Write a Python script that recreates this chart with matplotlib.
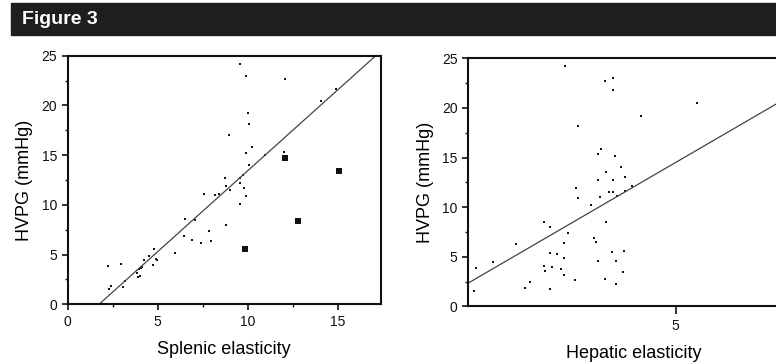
import matplotlib
matplotlib.use("Agg")
from matplotlib import pyplot as plt
from matplotlib.patches import Rectangle
import numpy as np

plt.rcParams['font.family'] = ['Liberation Sans', 'DejaVu Sans']

# Splenic elasticity vs HVPG (small dots)
spleen_x = [9.57, 9.93, 12.10, 14.9, 14.1, 10.0, 10.1, 8.98, 10.26, 9.9, 12.0, 10.97,
            10.1, 8.73, 9.6, 9.75, 8.8, 9.0, 9.6, 9.8, 9.9, 7.58, 8.2, 8.4, 9.6,
            6.52, 7.07, 6.48, 6.9, 7.41, 7.84, 7.99, 8.8, 5.96, 4.8, 4.5, 4.9, 4.99,
            4.75, 4.23, 4.13, 4.06, 3.95, 3.85, 4.0, 3.93, 2.96, 2.22, 3.17, 3.09,
            2.42, 2.27]
spleen_y = [24.16, 22.99, 22.68, 21.7, 20.4, 19.2, 18.1, 17.05, 15.8, 15.17, 15.3, 15.0,
            14.0, 12.75, 12.75, 13.05, 11.9, 11.5, 12.15, 11.7, 10.87, 11.1, 11.0, 11.1, 10.13,
            8.56, 8.5, 6.9, 6.48, 6.2, 7.38, 6.34, 7.95, 5.2, 5.57, 4.9, 4.56, 4.46,
            4.0, 4.43, 3.72, 3.62, 3.56, 3.19, 2.82, 2.72, 4.06, 3.86, 2.38, 1.78,
            1.88, 1.51]
# outliers drawn as larger squares
spleen_out_x = [12.08, 15.08, 9.87, 12.8]
spleen_out_y = [14.7, 13.45, 5.54, 8.39]
spleen_slope, spleen_icpt = 1.625, -2.83

# Hepatic elasticity vs HVPG
liver_x = [2.87, 3.65, 3.79, 3.79, 5.42, 4.33, 3.12, 3.56, 3.51, 3.83, 3.66, 3.94,
           4.02, 3.51, 3.79, 4.17, 3.08, 4.02, 3.72, 3.79, 3.87, 3.13, 3.54,
           3.38, 3.66, 2.47, 2.58, 2.92, 2.86, 3.42, 3.47, 1.93, 1.49, 1.15, 1.12,
           2.09, 2.19, 2.58, 2.72, 2.86, 2.47, 2.48, 2.61, 2.79, 2.85, 2.59, 3.06,
           3.51, 3.78, 4.01, 3.86, 3.65, 3.85, 3.98]
liver_y = [24.23, 22.7, 22.98, 21.84, 20.46, 19.19, 18.18, 15.9, 15.36, 15.19, 13.54, 14.08,
           13.07, 12.74, 12.74, 12.16, 11.93, 11.66, 11.49, 11.49, 11.12, 10.92, 11.06,
           10.21, 8.53, 8.5, 7.96, 7.39, 6.35, 6.92, 6.45, 6.25, 4.44, 3.9, 1.55,
           1.88, 2.42, 5.38, 5.24, 4.84, 4.07, 3.56, 4.0, 3.73, 3.13, 1.78, 2.65,
           4.57, 5.48, 5.54, 4.57, 2.79, 2.22, 3.49]
liver_slope, liver_icpt = 3.04, -0.71

fig = plt.figure(figsize=(7.76, 3.63), dpi=100)

# header band
fig.patches.append(Rectangle((11 / 776, 1 - 35 / 363), 1, 32 / 363,
                             transform=fig.transFigure, color='#1e1e1e', zorder=0))
fig.text(22 / 776, 1 - 19 / 363, 'Figure 3', color='white', fontsize=14,
         fontweight='bold', family=['Liberation Sans Narrow', 'Liberation Sans'],
         va='center', ha='left')

tick_kw = dict(direction='out', width=1.2, colors='#111111', labelsize=10)

# left panel
ax1 = fig.add_axes([67.7 / 776, 1 - 304.3 / 363, 313 / 776, 248.6 / 363])
ax1.scatter(spleen_x, spleen_y, s=4, marker='s', color='#111111', linewidths=0)
ax1.scatter(spleen_out_x, spleen_out_y, s=16, marker='s', color='#111111', linewidths=0)
x0 = -spleen_icpt / spleen_slope
x1 = (25 - spleen_icpt) / spleen_slope
ax1.plot([x0, x1], [spleen_slope * x0 + spleen_icpt, spleen_slope * x1 + spleen_icpt],
         color='#444444', lw=0.9)
ax1.set_xlim(0, 17.4)
ax1.set_ylim(0, 25)
ax1.set_xticks([0, 5, 10, 15])
ax1.set_xticks([2.5, 7.5, 12.5], minor=True)
ax1.set_yticks([0, 5, 10, 15, 20, 25])
ax1.set_yticks([2.5, 7.5, 12.5, 17.5, 22.5], minor=True)
ax1.tick_params(which='major', length=4, **tick_kw)
ax1.tick_params(which='minor', length=2.5, direction='out', width=1.0, colors='#111111')
for s in ax1.spines.values():
    s.set_linewidth(1.5)
    s.set_color('#111111')
ax1.set_xlabel('Splenic elasticity', fontsize=13, labelpad=9)
ax1.set_ylabel('HVPG (mmHg)', fontsize=13, labelpad=6)

# right panel (runs off the right edge of the page)
ax2 = fig.add_axes([468 / 776, 1 - 306.3 / 363, 332 / 776, 248 / 363])
ax2.scatter(liver_x, liver_y, s=4, marker='s', color='#111111', linewidths=0)
hx = np.array([1.0, 7.4])
ax2.plot(hx, liver_slope * hx + liver_icpt, color='#444444', lw=0.9)
ax2.set_xlim(1.0, 7.4)
ax2.set_ylim(0, 25)
ax2.set_xticks([5])
ax2.set_yticks([0, 5, 10, 15, 20, 25])
ax2.set_yticks([2.5, 7.5, 12.5, 17.5, 22.5], minor=True)
ax2.tick_params(axis='x', which='major', length=6, **tick_kw)
ax2.tick_params(axis='y', which='major', length=4, **tick_kw)
ax2.tick_params(which='minor', length=2.5, direction='out', width=1.0, colors='#111111')
for s in ax2.spines.values():
    s.set_linewidth(1.5)
    s.set_color('#111111')
ax2.set_xlabel('Hepatic elasticity', fontsize=13, labelpad=8)
ax2.set_ylabel('HVPG (mmHg)', fontsize=13, labelpad=6)

fig.savefig('out.png', dpi=100)
